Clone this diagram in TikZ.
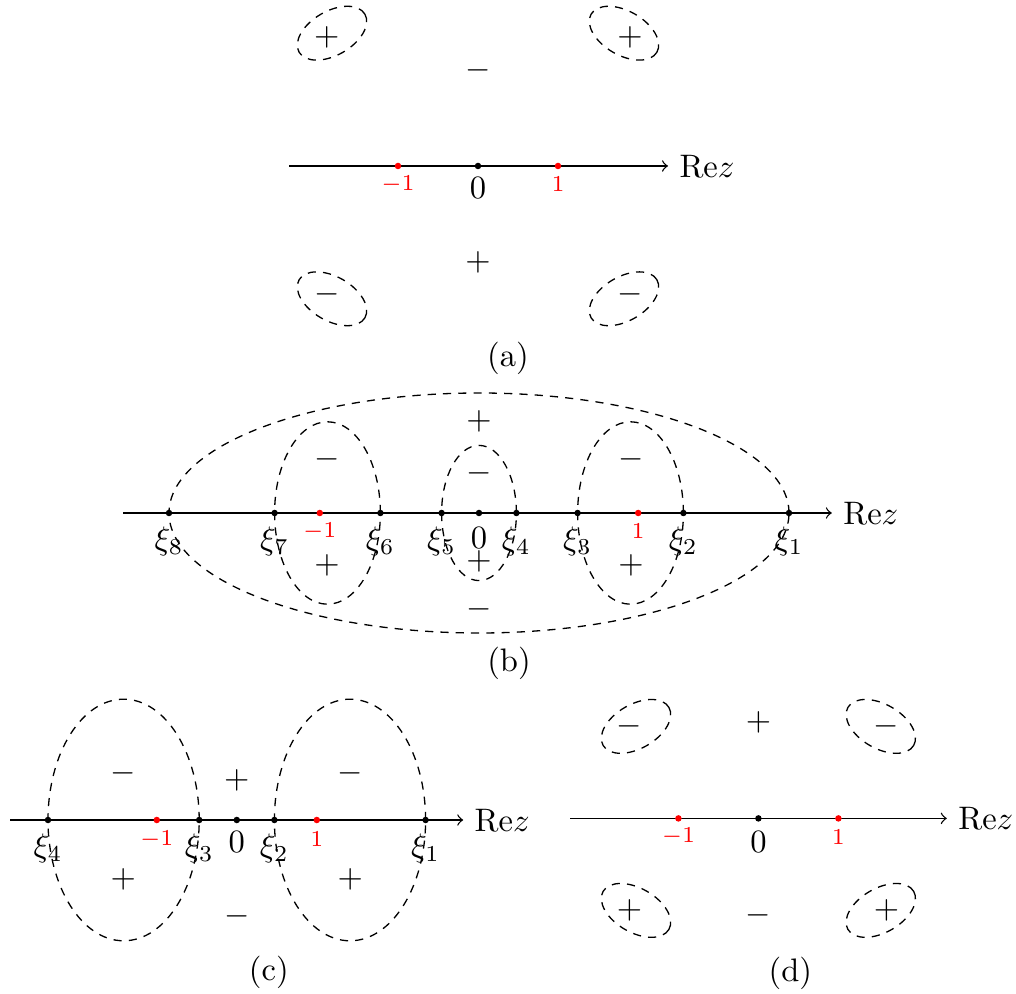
\documentclass[tikz,border=0pt]{standalone}
\usepackage{tikz}
\usetikzlibrary{arrows, positioning, calc}

\tikzset{
    dot/.style={circle, fill=black, inner sep=0pt, minimum size=2pt},
    rdot/.style={dot, fill=red},
    rlbl/.style={text=red, font=\scriptsize},
    region/.style={dash pattern=on 2.5pt off 2.2pt},
    subcap/.style={font=\normalsize}
}

\begin{document}
\begin{tikzpicture}[x=0.864cm, y=0.864cm]
    \useasboundingbox (0,0) rectangle (12.7,-12.425);

    % (a)
    \begin{scope}[shift={(5.975,-2.075)}]
        \coordinate (aL) at (-2.36,0);
        \coordinate (aR) at (2.375,0);
        \draw[->] (aL) -- (aR);
        \node[anchor=west] (aRe) at (aR) {$\mathrm{Re}z$};
        \node[rdot] (am1) at (-1,0) {};
        \node[dot] (a0) at (0,0) {};
        \node[rdot] (ap1) at (1,0) {};
        \node[rlbl] (am1l) at (-1,-0.23) {$-1$};
        \node (a0l) at (0,-0.275) {$0$};
        \node[rlbl] (ap1l) at (1,-0.23) {$1$};
        \foreach \cx/\cy/\ang in {-1.825/1.66/30, 1.825/1.66/-30, -1.825/-1.66/-30, 1.825/-1.66/30}
            \draw[region, rotate around={\ang:(\cx,\cy)}] (\cx,\cy) ellipse (0.475 and 0.275);
        \node (as1) at (-1.89,1.61) {$+$};
        \node (as2) at (1.9,1.61) {$+$};
        \node (as3) at (0,1.2) {$-$};
        \node (as4) at (0,-1.21) {$+$};
        \node (as5) at (-1.89,-1.61) {$-$};
        \node (as6) at (1.9,-1.61) {$-$};
        \node[subcap] (acap) at (0.375,-2.4) {(a)};
    \end{scope}

    % (b)
    \begin{scope}[shift={(5.9875,-6.4125)}]
        \coordinate (bL) at (-4.45,0);
        \coordinate (bR) at (4.41,0);
        \draw[->] (bL) -- (bR);
        \node[anchor=west] (bRe) at (bR) {$\mathrm{Re}z$};
        \draw[region] (0,0) ellipse (3.875 and 1.5);
        \draw[region] (-1.894,0) ellipse (0.661 and 1.14);
        \draw[region] (1.894,0) ellipse (0.661 and 1.14);
        \draw[region] (0,0) ellipse (0.4675 and 0.845);
        \foreach \i/\x in {1/3.875, 2/2.555, 3/1.2325, 4/0.4675, 5/-0.4675, 6/-1.2325, 7/-2.555, 8/-3.875} {
            \node[dot] (bx\i) at (\x,0) {};
            \node (bxl\i) at (\x,-0.36) {$\xi_{\i}$};
        }
        \node[rdot] (bm1) at (-1.99,0) {};
        \node[dot] (b0) at (0,0) {};
        \node[rdot] (bp1) at (1.99,0) {};
        \node[rlbl] (bm1l) at (-1.99,-0.23) {$-1$};
        \node (b0l) at (0,-0.31) {$0$};
        \node[rlbl] (bp1l) at (1.99,-0.23) {$1$};
        \node (bs1) at (0,1.15) {$+$};
        \node (bs2) at (0,0.49) {$-$};
        \node (bs3) at (0,-0.61) {$+$};
        \node (bs4) at (0,-1.21) {$-$};
        \node (bs5) at (-1.9,0.675) {$-$};
        \node (bs6) at (-1.9,-0.65) {$+$};
        \node (bs7) at (1.9,0.675) {$-$};
        \node (bs8) at (1.9,-0.65) {$+$};
        \node[subcap] (bcap) at (0.375,-1.875) {(b)};
    \end{scope}

    % (c)
    \begin{scope}[shift={(2.96,-10.25)}]
        \coordinate (cL) at (-2.83,0);
        \coordinate (cR) at (2.83,0);
        \draw[->] (cL) -- (cR);
        \node[anchor=west] (cRe) at (cR) {$\mathrm{Re}z$};
        \draw[region] (-1.415,0) ellipse (0.945 and 1.51);
        \draw[region] (1.415,0) ellipse (0.945 and 1.51);
        \foreach \i/\x in {1/2.36, 2/0.47, 3/-0.47, 4/-2.36} {
            \node[dot] (cx\i) at (\x,0) {};
            \node (cxl\i) at (\x,-0.35) {$\xi_{\i}$};
        }
        \node[rdot] (cm1) at (-1,0) {};
        \node[dot] (c0) at (0,0) {};
        \node[rdot] (cp1) at (1,0) {};
        \node[rlbl] (cm1l) at (-1,-0.24) {$-1$};
        \node (c0l) at (0,-0.28) {$0$};
        \node[rlbl] (cp1l) at (1,-0.24) {$1$};
        \node (cs1) at (-1.42,0.58) {$-$};
        \node (cs2) at (-1.42,-0.74) {$+$};
        \node (cs3) at (0,0.49) {$+$};
        \node (cs4) at (0,-1.21) {$-$};
        \node (cs5) at (1.42,0.58) {$-$};
        \node (cs6) at (1.42,-0.74) {$+$};
        \node[subcap] (ccap) at (0.4,-1.91) {(c)};
    \end{scope}

    % (d)
    \begin{scope}[shift={(9.48,-10.23)}]
        \coordinate (dL) at (-2.35,0);
        \coordinate (dR) at (2.355,0);
        \draw[->] (dL) -- (dR);
        \node[anchor=west] (dRe) at (dR) {$\mathrm{Re}z$};
        \node[rdot] (dm1) at (-1,0) {};
        \node[dot] (d0) at (0,0) {};
        \node[rdot] (dp1) at (1,0) {};
        \node[rlbl] (dm1l) at (-1,-0.23) {$-1$};
        \node (d0l) at (0,-0.29) {$0$};
        \node[rlbl] (dp1l) at (1,-0.23) {$1$};
        \foreach \cx/\cy/\ang in {-1.53/1.15/30, 1.53/1.15/-30, -1.53/-1.15/-30, 1.53/-1.15/30}
            \draw[region, rotate around={\ang:(\cx,\cy)}] (\cx,\cy) ellipse (0.475 and 0.275);
        \node (ds1) at (-1.61,1.15) {$-$};
        \node (ds2) at (1.6,1.15) {$-$};
        \node (ds3) at (0,1.2) {$+$};
        \node (ds4) at (0,-1.21) {$-$};
        \node (ds5) at (-1.61,-1.15) {$+$};
        \node (ds6) at (1.6,-1.15) {$+$};
        \node[subcap] (dcap) at (0.4,-1.94) {(d)};
    \end{scope}
\end{tikzpicture}
\end{document}
